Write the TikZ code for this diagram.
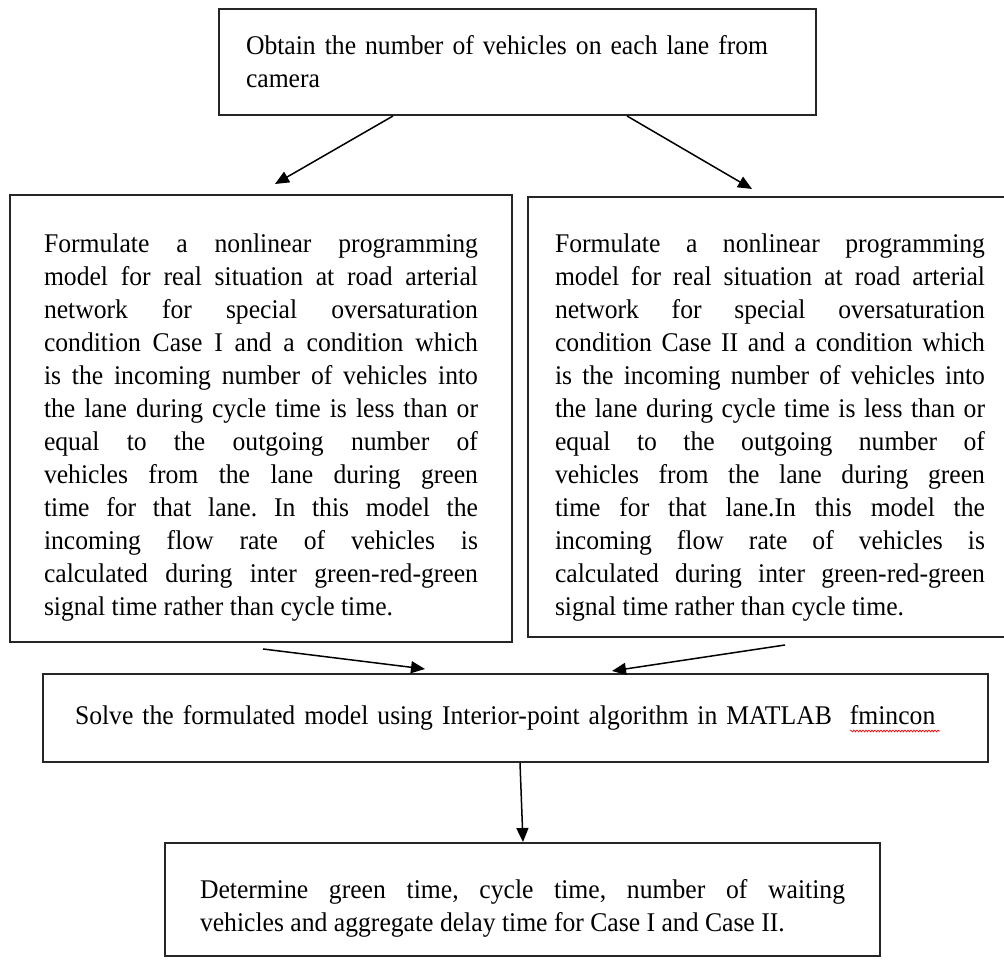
\documentclass[tikz,border=0pt]{standalone}
\usepackage{fontspec}
\setmainfont{Liberation Serif}[FakeStretch=0.95]
\usepackage{tikz}
\usetikzlibrary{arrows.meta, decorations.pathmorphing}
\hyphenpenalty=10000 % keep the words whole
\tolerance=10000
\hbadness=10000
\frenchspacing
\tikzset{
x=1pt, y=1pt, % one unit is one pixel of the sketch
box/.style={draw=black!85, line width=2pt, inner sep=0pt, font=\fontsize{27}{33}\selectfont}, % every step of the flow
flow/.style={-{Triangle[length=14pt, width=12pt]}, line width=1.5pt}, % the arrows between the steps
wavy/.style={red, line width=0.6pt, decorate, decoration={snake, segment length=3pt, amplitude=1pt}}, % spell checker mark
}

\begin{document}
\begin{tikzpicture}
\useasboundingbox (0,0) rectangle (1004,960);
\node[box, text width=543pt, minimum width=597pt, minimum height=106pt, align=left] (obtain) at (517.5,898) {Obtain the number of vehicles on each lane from\\camera};
\node[box, text width=434pt, minimum width=502pt, minimum height=447pt, align=justify] (caseone) at (261,541.5) {\rule{0pt}{36pt}Formulate a nonlinear programming\linebreak
model for real situation at road arterial\linebreak
network for special oversaturation\linebreak
condition Case I and a condition which\linebreak
is the incoming number of vehicles into\linebreak
the lane during cycle time is less than or\linebreak
equal to the outgoing number of\linebreak
vehicles from the lane during green\linebreak
time for that lane. In this model the\linebreak
incoming flow rate of vehicles is\linebreak
calculated during inter green-red-green\linebreak
signal time rather than cycle time.};
\node[box, text width=430pt, minimum width=484pt, minimum height=440pt, align=justify] (casetwo) at (770,543) {\rule{0pt}{39pt}Formulate a nonlinear programming\linebreak
model for real situation at road arterial\linebreak
network for special oversaturation\linebreak
condition Case II and a condition which\linebreak
is the incoming number of vehicles into\linebreak
the lane during cycle time is less than or\linebreak
equal to the outgoing number of\linebreak
vehicles from the lane during green\linebreak
time for that lane.In this model the\linebreak
incoming flow rate of vehicles is\linebreak
calculated during inter green-red-green\linebreak
signal time rather than cycle time.};
\node[box, text width=881pt, minimum width=945pt, minimum height=88pt, align=left] (solve) at (515.5,242) {Solve the formulated model using Interior-point algorithm in MATLAB\ \ fmincon};
\node[box, text width=645pt, minimum width=715pt, minimum height=113pt, align=justify] (result) at (522.5,60.5) {\rule{0pt}{36pt}Determine green time, cycle time, number of waiting\linebreak
vehicles and aggregate delay time for Case I and Case II.};

\draw[flow] ([xshift=-124.5pt]obtain.south) -- ([xshift=14pt,yshift=10pt]caseone.north);
\draw[flow] ([xshift=109.5pt]obtain.south) -- ([xshift=-18pt,yshift=7pt]casetwo.north);
\draw[flow] ([xshift=2pt,yshift=-6pt]caseone.south) -- ([xshift=-90.5pt,yshift=4pt]solve.north);
\draw[flow] ([xshift=15pt,yshift=-7pt]casetwo.south) -- ([xshift=96.5pt,yshift=2pt]solve.north);
\draw[flow] ([xshift=4.5pt]solve.south) -- ([xshift=0.5pt]result.north);
% red mark under fmincon
\draw[wavy] ([xshift=334.5pt,yshift=-13pt]solve.center) -- ([xshift=424.5pt,yshift=-13pt]solve.center);
\end{tikzpicture}
\end{document}
